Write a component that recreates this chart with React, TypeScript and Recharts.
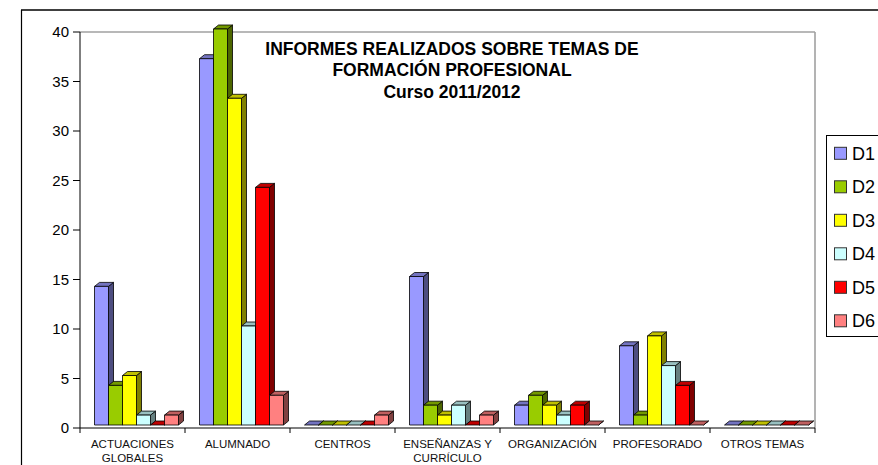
import { BarChart, Bar, XAxis, YAxis } from "recharts";

const categories = [
  "ACTUACIONES GLOBALES",
  "ALUMNADO",
  "CENTROS",
  "ENSEÑANZAS Y CURRÍCULO",
  "ORGANIZACIÓN",
  "PROFESORADO",
  "OTROS TEMAS",
];

// etiquetas del eje X partidas en líneas como en el original
const labelLines: Record<string, string[]> = {
  "ACTUACIONES GLOBALES": ["ACTUACIONES", "GLOBALES"],
  "ENSEÑANZAS Y CURRÍCULO": ["ENSEÑANZAS Y", "CURRÍCULO"],
};

const d1 = [14, 37, 0, 15, 2, 8, 0];
const d2 = [4, 40, 0, 2, 3, 1, 0];
const d3 = [5, 33, 0, 1, 2, 9, 0];
const d4 = [1, 10, 0, 2, 1, 6, 0];
const d5 = [0, 24, 0, 0, 2, 4, 0];
const d6 = [1, 3, 1, 1, 0, 0, 0];

const yTicks = [0, 5, 10, 15, 20, 25, 30, 35, 40];

const series = [
  { key: "D1", values: d1, front: "#9999FF", top: "#7373c0", side: "#4d4d80" },
  { key: "D2", values: d2, front: "#99CC00", top: "#739900", side: "#4d6600" },
  { key: "D3", values: d3, front: "#FFFF00", top: "#c0c000", side: "#808000" },
  { key: "D4", values: d4, front: "#CCFFFF", top: "#99c0c0", side: "#668080" },
  { key: "D5", values: d5, front: "#FF0000", top: "#c00000", side: "#800000" },
  { key: "D6", values: d6, front: "#FF8080", top: "#c06060", side: "#804040" },
];

const data = categories.map((name, i) => {
  const row: Record<string, string | number> = { name };
  series.forEach((s) => (row[s.key] = s.values[i]));
  return row;
});

const W = 878;
const H = 465;
const PLOT_L = 80;
const PLOT_R = 815;
const PLOT_T = 32;
const PLOT_B = 428;
const BAND = (PLOT_R - PLOT_L) / categories.length;
const FONT = "'Liberation Sans', Arial, sans-serif";

// desplazamiento de la profundidad 3D
const DX = 5;
const DY = 4;
const SHIFT_X = 4;
const SHIFT_Y = -3;

function make3D(front: string, top: string, side: string) {
  return (props: any) => {
    const { x, y, width, height } = props;
    if (x == null || width == null) return <g />;
    const h = Math.max(0, height || 0);
    const x0 = x + SHIFT_X;
    const y0 = y + SHIFT_Y;
    const x1 = x0 + width;
    const y1 = y0 + h;
    return (
      <g stroke="#000" strokeWidth={0.8} strokeLinejoin="round">
        <polygon
          points={`${x1},${y0} ${x1 + DX},${y0 - DY} ${x1 + DX},${y1 - DY} ${x1},${y1}`}
          fill={side}
        />
        <polygon
          points={`${x0},${y0} ${x0 + DX},${y0 - DY} ${x1 + DX},${y0 - DY} ${x1},${y0}`}
          fill={top}
        />
        {h > 0 && <rect x={x0} y={y0} width={width} height={h} fill={front} />}
      </g>
    );
  };
}

function CategoryTick(props: any) {
  const { x, y, payload, index } = props;
  const label = payload.value as string;
  const lines = labelLines[label] || [label];
  const left = x - BAND / 2;
  const right = x + BAND / 2;
  return (
    <g>
      <line x1={left} y1={y} x2={left} y2={y + 5} stroke="#000" />
      {index === categories.length - 1 && (
        <line x1={right} y1={y} x2={right} y2={y + 5} stroke="#000" />
      )}
      {lines.map((t, i) => (
        <text
          key={t}
          x={x}
          y={y + 20 + i * 14}
          textAnchor="middle"
          fontSize={11.5}
          fontFamily={FONT}
          fill="#111"
        >
          {t}
        </text>
      ))}
    </g>
  );
}

export default function App() {
  return (
    <div style={{ position: "relative", width: W, height: H, overflow: "hidden", background: "#fff" }}>
      <style>{"body{margin:0}"}</style>
      {/* fondo: marco exterior y bordes del área de trazado */}
      <svg width={W} height={H} style={{ position: "absolute", left: 0, top: 0 }}>
        <line x1={21} y1={10} x2={W} y2={10} stroke="#000" strokeWidth={1.6} />
        <line x1={21.5} y1={10} x2={21.5} y2={H} stroke="#000" strokeWidth={1.2} />
        <line x1={PLOT_L} y1={PLOT_T} x2={PLOT_R} y2={PLOT_T} stroke="#a0a0a0" strokeWidth={1.6} />
        <line x1={PLOT_R} y1={PLOT_T} x2={PLOT_R} y2={PLOT_B} stroke="#a0a0a0" strokeWidth={1.6} />
      </svg>
      <div style={{ position: "absolute", left: 0, top: 0 }}>
        <BarChart
          width={W}
          height={H}
          data={data}
          margin={{ top: PLOT_T, right: W - PLOT_R, left: 0, bottom: 0 }}
          barCategoryGap="10%"
          barGap={0}
        >
          <XAxis
            dataKey="name"
            height={H - PLOT_B}
            axisLine={{ stroke: "#000" }}
            tickLine={false}
            tickSize={0}
            tickMargin={0}
            interval={0}
            tick={<CategoryTick />}
          />
          <YAxis
            width={PLOT_L}
            domain={[0, 40]}
            ticks={yTicks}
            interval={0}
            axisLine={{ stroke: "#000" }}
            tickLine={{ stroke: "#000" }}
            tickSize={7}
            tickMargin={4}
            tick={{ fontSize: 15, fill: "#000", fontFamily: FONT }}
          />
          {series.map((s) => (
            <Bar
              key={s.key}
              dataKey={s.key}
              isAnimationActive={false}
              shape={make3D(s.front, s.top, s.side)}
            />
          ))}
        </BarChart>
      </div>
      {/* título y leyenda */}
      <svg width={W} height={H} style={{ position: "absolute", left: 0, top: 0, pointerEvents: "none" }}>
        <g fontFamily={FONT} fontWeight="bold" fontSize={17.5} textAnchor="middle" fill="#000">
          <text x={452} y={55}>INFORMES REALIZADOS SOBRE TEMAS DE</text>
          <text x={452} y={76}>FORMACIÓN PROFESIONAL</text>
          <text x={452} y={98}>Curso 2011/2012</text>
        </g>
        <rect x={826.5} y={135.5} width={80} height={201} fill="#fff" stroke="#000" strokeWidth={1} />
        {series.map((s, i) => {
          const cy = 153.3 + i * 33.5;
          return (
            <g key={s.key}>
              <rect x={834.5} y={cy - 6} width={12} height={12} fill={s.front} stroke="#333" />
              <text x={852} y={cy + 6.5} fontSize={18} fontFamily={FONT} fill="#000">
                {s.key}
              </text>
            </g>
          );
        })}
      </svg>
    </div>
  );
}
